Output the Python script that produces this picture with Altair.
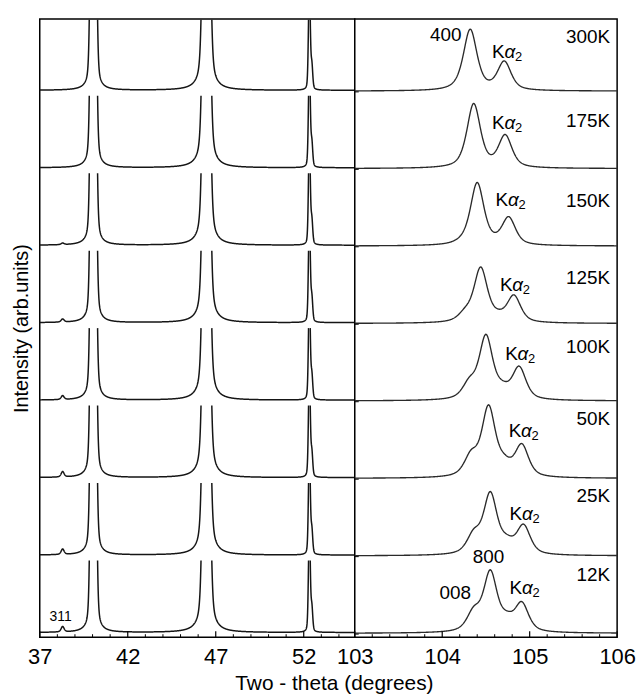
import numpy as np
import pandas as pd
import altair as alt

FONT = "Liberation Sans"

# ---------------- data ----------------
temps = ["300K", "175K", "150K", "125K", "100K", "50K", "25K", "12K"]
row_base = [7, 6, 5, 4, 3, 2, 1, 0]          # stacking offset of each temperature

# left panel: three strong reflections (same in all rows) + the weak 311 line
left_centers = [40.05, 46.47, 52.32, 52.46]
left_heights = [10.0, 8.0, 1.4, 0.3]
left_hwhm = [0.12, 0.16, 0.06, 0.06]
left_eta = [0.18, 0.28, 0.3, 0.3]
p311_center = 38.3
p311_height = [0.0, 0.0, 0.02, 0.04, 0.05, 0.07, 0.07, 0.07]

# right panel: K-alpha1 (400/800), K-alpha2 and the 008 shoulder, per row
ka1_pos = [104.32, 104.36, 104.40, 104.44, 104.50, 104.53, 104.55, 104.55]
ka1_top = [0.80, 0.84, 0.82, 0.73, 0.86, 0.95, 0.83, 0.82]
ka2_pos = [104.71, 104.72, 104.76, 104.82, 104.88, 104.91, 104.93, 104.91]
ka2_top = [0.39, 0.44, 0.38, 0.37, 0.45, 0.45, 0.41, 0.41]
sh_pos = [104.15, 104.18, 104.22, 104.26, 104.31, 104.33, 104.36, 104.36]
sh_level = [0.15, 0.13, 0.15, 0.21, 0.31, 0.37, 0.35, 0.35]

# annotation positions (x in degrees, y above the row baseline)
ka2_label_x = [104.57, 104.57, 104.61, 104.66, 104.72, 104.76, 104.77, 104.77]
ka2_label_y = [0.52, 0.60, 0.60, 0.51, 0.62, 0.62, 0.55, 0.60]
temp_label_y = [0.71, 0.63, 0.59, 0.60, 0.71, 0.78, 0.78, 0.76]
hkl_labels = ["400", "800", "008"]
hkl_x = [104.22, 104.53, 104.15]
hkl_y = [7.73, 1.00, 0.53]
hkl_align = ["right", "center", "center"]

left_major = [37, 42, 47, 52]
left_minor = [38, 39, 40, 41, 43, 44, 45, 46, 48, 49, 50, 51, 53, 54]
right_major = [103, 104, 105, 106]
right_minor = [103.2, 103.4, 103.6, 103.8, 104.2, 104.4, 104.6, 104.8,
               105.2, 105.4, 105.6, 105.8]

Y_DOMAIN = [-0.04, 7.94]
CLIP = 0.95


def pv(x, c, h, g, eta):
    r = ((x - c) / g) ** 2
    return h * (eta / (1 + r) + (1 - eta) * np.exp(-np.log(2) * r))


def clip_segments(xs, ys, top, row):
    out = []
    sid = 0
    prev_above = ys[0] > top
    if not prev_above:
        out.append((xs[0], ys[0], f"{row}-{sid}"))
    for i in range(1, len(xs)):
        above = ys[i] > top
        if above != prev_above:
            t = (top - ys[i - 1]) / (ys[i] - ys[i - 1])
            xc = xs[i - 1] + t * (xs[i] - xs[i - 1])
            out.append((xc, top, f"{row}-{sid}"))
            if above:
                sid += 1
        if not above:
            out.append((xs[i], ys[i], f"{row}-{sid}"))
        prev_above = above
    return out


# ---------------- left panel traces ----------------
xl = np.round(np.arange(37.0, 54.9001, 0.01), 3)
left_rows = []
for k, t in enumerate(temps):
    y = np.zeros_like(xl) + 0.02
    for c, h, g, e in zip(left_centers, left_heights, left_hwhm, left_eta):
        y += pv(xl, c, h, g, e)
    y += pv(xl, p311_center, p311_height[k], 0.1, 0.5)
    base = row_base[k]
    top = min(base + CLIP, Y_DOMAIN[1] - 0.01)
    left_rows += clip_segments(xl, y + base, top, k)
left_df = pd.DataFrame(left_rows, columns=["x", "y", "seg"]).round(4)

# ---------------- right panel traces ----------------
xr = np.round(np.arange(103.0, 106.0001, 0.005), 3)
G1, ETA = 0.092, 0.6
KSEP = 0.38
right_rows = []
for k, t in enumerate(temps):
    def b1(x):
        return pv(x, ka1_pos[k], 1.0, G1, ETA)

    def b2(x):
        return pv(x, ka2_pos[k], 1.0, G1, ETA)

    def b3(x):
        return pv(x, sh_pos[k], 1.0, G1, ETA) + 0.5 * pv(x, sh_pos[k] + KSEP, 1.0, G1, ETA)

    pts = [ka1_pos[k], ka2_pos[k], sh_pos[k]]
    A = np.array([[b(p) for b in (b1, b2, b3)] for p in pts])
    amp = np.linalg.solve(A, np.array([ka1_top[k], ka2_top[k], sh_level[k]]))
    amp = np.clip(amp, 0, None)
    y = 0.01 + amp[0] * b1(xr) + amp[1] * b2(xr) + amp[2] * b3(xr)
    base = row_base[k]
    for xx, yy in zip(xr, y + base):
        right_rows.append((xx, yy, f"{k}"))
right_df = pd.DataFrame(right_rows, columns=["x", "y", "seg"]).round(4)

# ---------------- annotation tables ----------------
temp_df = pd.DataFrame({"x": 105.92, "y": [b + o for b, o in zip(row_base, temp_label_y)],
                        "t": temps})
ka_df = pd.DataFrame({"x": ka2_label_x, "y": [b + o for b, o in zip(row_base, ka2_label_y)]})
hkl_df = pd.DataFrame({"x": hkl_x, "y": hkl_y, "t": hkl_labels, "a": hkl_align})
lab311_df = pd.DataFrame({"x": [38.19], "y": [0.22], "t": ["311"]})
base_df = pd.DataFrame({"y": row_base})

W_L, W_R, H = 317, 264, 622

xl_scale = alt.Scale(domain=[37, 54.9], nice=False, zero=False)
xr_scale = alt.Scale(domain=[103, 106], nice=False, zero=False)
y_scale = alt.Scale(domain=Y_DOMAIN, nice=False, zero=False)

left_xaxis = alt.Axis(values=left_major, ticks=False, domain=False, grid=False,
                      labelFontSize=22, labelPadding=9, labelFlush=False,
                      labelOverlap=False, labelColor="black", labelFont=FONT,
                      title="Two - theta (degrees)", titleFontSize=21,
                      titleFontWeight="normal", titleFont=FONT, titleColor="black",
                      titleX=296, titleY=53, titleBaseline="alphabetic",
                      titleAlign="center", titleAnchor="start")
left_yaxis = alt.Axis(labels=False, ticks=False, domain=False, grid=False,
                      title="Intensity (arb.units)", titleFontSize=20,
                      titleFontWeight="normal", titleFont=FONT, titleColor="black",
                      titlePadding=8)

frame = alt.ViewBackground(stroke="black", strokeWidth=1.5, fill="white")

line_left = alt.Chart(left_df).mark_line(color="#151515", strokeWidth=1.5).encode(
    x=alt.X("x:Q", scale=xl_scale, axis=left_xaxis),
    y=alt.Y("y:Q", scale=y_scale, axis=left_yaxis),
    detail="seg:N",
)

major_l = alt.Chart(pd.DataFrame({"x": left_major})).mark_rule(color="black", strokeWidth=1.2).encode(
    x=alt.X("x:Q", scale=xl_scale), y=alt.value(H), y2=alt.value(H - 6))
minor_l = alt.Chart(pd.DataFrame({"x": left_minor})).mark_rule(color="black", strokeWidth=1).encode(
    x=alt.X("x:Q", scale=xl_scale), y=alt.value(H), y2=alt.value(H - 3))
text311 = alt.Chart(lab311_df).mark_text(font=FONT, fontSize=14, color="black").encode(
    x=alt.X("x:Q", scale=xl_scale), y=alt.Y("y:Q", scale=y_scale), text="t:N")

left = alt.layer(line_left, major_l, minor_l, text311).properties(
    width=W_L, height=H, view=frame)

right_xaxis = alt.Axis(values=right_major, ticks=False, domain=False, grid=False,
                       labelFontSize=22, labelPadding=9, labelFlush=False,
                       labelOverlap=False, labelColor="black", labelFont=FONT,
                       title=None, format="d")

line_right = alt.Chart(right_df).mark_line(color="#2a2a2a", strokeWidth=1.35).encode(
    x=alt.X("x:Q", scale=xr_scale, axis=right_xaxis),
    y=alt.Y("y:Q", scale=y_scale, axis=None),
    detail="seg:N",
)
major_r = alt.Chart(pd.DataFrame({"x": right_major})).mark_rule(color="black", strokeWidth=1.2).encode(
    x=alt.X("x:Q", scale=xr_scale), y=alt.value(H), y2=alt.value(H - 6))
minor_r = alt.Chart(pd.DataFrame({"x": right_minor})).mark_rule(color="black", strokeWidth=1).encode(
    x=alt.X("x:Q", scale=xr_scale), y=alt.value(H), y2=alt.value(H - 3))
row_ticks = alt.Chart(base_df).mark_rule(color="black", strokeWidth=1).encode(
    y=alt.Y("y:Q", scale=y_scale), x=alt.value(0), x2=alt.value(4))

temp_text = alt.Chart(temp_df).mark_text(font=FONT, fontSize=19, align="right",
                                         baseline="middle", color="black").encode(
    x=alt.X("x:Q", scale=xr_scale), y=alt.Y("y:Q", scale=y_scale), text="t:N")
k_text = alt.Chart(ka_df).mark_text(font=FONT, fontSize=19, align="left",
                                    baseline="middle", color="black", text="K").encode(
    x=alt.X("x:Q", scale=xr_scale), y=alt.Y("y:Q", scale=y_scale))
a_text = alt.Chart(ka_df).mark_text(font=FONT, fontSize=19, align="left", fontStyle="italic",
                                    baseline="middle", color="black", text="α", dx=12.5).encode(
    x=alt.X("x:Q", scale=xr_scale), y=alt.Y("y:Q", scale=y_scale))
s_text = alt.Chart(ka_df).mark_text(font=FONT, fontSize=13, align="left",
                                    baseline="middle", color="black", text="2", dx=23, dy=5).encode(
    x=alt.X("x:Q", scale=xr_scale), y=alt.Y("y:Q", scale=y_scale))
hkl_r = alt.Chart(hkl_df[hkl_df["a"] == "right"]).mark_text(
    font=FONT, fontSize=19, align="right", baseline="middle", color="black").encode(
    x=alt.X("x:Q", scale=xr_scale), y=alt.Y("y:Q", scale=y_scale), text="t:N")
hkl_c = alt.Chart(hkl_df[hkl_df["a"] == "center"]).mark_text(
    font=FONT, fontSize=19, align="center", baseline="middle", color="black").encode(
    x=alt.X("x:Q", scale=xr_scale), y=alt.Y("y:Q", scale=y_scale), text="t:N")

right = alt.layer(line_right, major_r, minor_r, row_ticks, temp_text, k_text, a_text,
                  s_text, hkl_r, hkl_c).properties(width=W_R, height=H, view=frame)

chart = alt.hconcat(left, right, spacing=0, bounds="flush").properties(
    padding={"left": 11, "top": 14, "right": 0, "bottom": 0},
    background="white",
).configure_view(stroke="black", strokeWidth=1.5)

chart.save("out.html", embed_options={"renderer": "svg", "actions": False})
